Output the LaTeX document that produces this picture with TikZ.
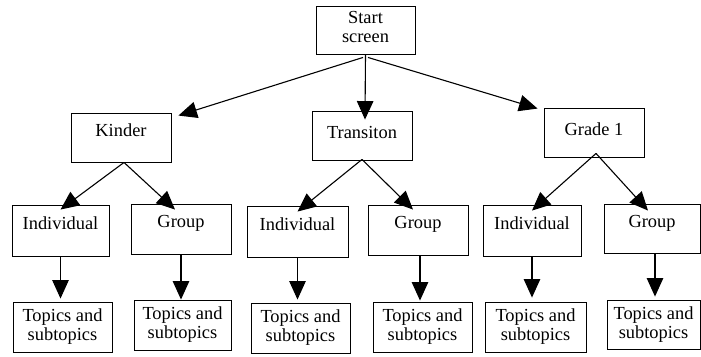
\documentclass[tikz,border=0pt]{standalone}
\usepackage{fontspec}
\setmainfont{Liberation Serif}
\usetikzlibrary{arrows.meta}

\begin{document}
\begin{tikzpicture}[x=1pt, y=-1pt, >={Triangle[length=18.5pt, width=16.5pt]},
  box/.style={draw, line width=0.9pt, inner sep=0pt, align=center,
    font=\rmfamily\fontsize{18.4}{19}\selectfont},
  arr/.style={->, line width=1.1pt}]
  \useasboundingbox (0,0) rectangle (701,356);

  % top of the tree
  \node[box, minimum width=99, minimum height=48, text depth=7pt] (start) at (365.5,30) {Start\\screen};

  % grades
  \node[box, minimum width=100, minimum height=49, text depth=15.6pt] (kinder) at (121,137.5) {Kinder};
  \node[box, minimum width=100, minimum height=49, text depth=5.2pt] (trans) at (362,135.5) {Transiton};
  \node[box, minimum width=100, minimum height=49, text depth=7.6pt] (grade) at (594,132.5) {Grade 1};

  % individual / group
  \node[box, minimum width=97, minimum height=51, text depth=14.6pt] (ind1) at (60.5,230.5) {Individual};
  \node[box, minimum width=100, minimum height=50, text depth=14.4pt] (grp1) at (181,229) {Group};
  \node[box, minimum width=101, minimum height=51, text depth=14.6pt] (ind2) at (297.5,231.5) {Individual};
  \node[box, minimum width=100, minimum height=50, text depth=14.4pt] (grp2) at (418,230) {Group};
  \node[box, minimum width=98, minimum height=51, text depth=14.6pt] (ind3) at (532,230.5) {Individual};
  \node[box, minimum width=96, minimum height=49, text depth=14.4pt] (grp3) at (652,228.5) {Group};

  % topics
  \node[box, minimum width=99, minimum height=50] (top1) at (62.5,327) {Topics and\\subtopics};
  \node[box, minimum width=97, minimum height=50] (top2) at (182.5,325) {Topics and\\subtopics};
  \node[box, minimum width=99, minimum height=50] (top3) at (300.5,328) {Topics and\\subtopics};
  \node[box, minimum width=99, minimum height=50] (top4) at (422.5,327) {Topics and\\subtopics};
  \node[box, minimum width=101, minimum height=50] (top5) at (535.5,327) {Topics and\\subtopics};
  \node[box, minimum width=93, minimum height=49] (top6) at (653.5,324.5) {Topics and\\subtopics};

  % start -> grades
  \draw[arr] ([xshift=-2.5, yshift=-3]start.south) -- ([xshift=7, yshift=-3]kinder.north east);
  \draw[arr] (start.south) -- ([xshift=3, yshift=-9]trans.north);
  \draw[arr] ([xshift=2.5, yshift=-3]start.south) -- ([xshift=-6, yshift=-1]grade.north west);

  % grades -> individual / group
  \draw[arr] ([xshift=3]kinder.south) -- ([yshift=-5]ind1.north);
  \draw[arr] ([xshift=3]kinder.south) -- ([xshift=-6, yshift=-6]grp1.north);
  \draw[arr] ([yshift=1]trans.south) -- ([yshift=-6]ind2.north);
  \draw[arr] ([yshift=1]trans.south) -- ([xshift=-5, yshift=-5]grp2.north);
  \draw[arr] ([xshift=2, yshift=4]grade.south) -- ([yshift=-6]ind3.north);
  \draw[arr] ([xshift=2, yshift=4]grade.south) -- ([xshift=-4, yshift=-7]grp3.north);

  % individual / group -> topics
  \draw[arr, shorten >=3pt] (ind1.south) -- (ind1.south |- top1.north);
  \draw[arr] (grp1.south) -- (grp1.south |- top2.north);
  \draw[arr, shorten >=3pt] (ind2.south) -- (ind2.south |- top3.north);
  \draw[arr, shorten >=1pt] ([xshift=2]grp2.south) -- ([xshift=2]grp2.south |- top4.north);
  \draw[arr, shorten >=4pt] (ind3.south) -- (ind3.south |- top5.north);
  \draw[arr, shorten >=3pt] ([xshift=3]grp3.south) -- ([xshift=3]grp3.south |- top6.north);
\end{tikzpicture}
\end{document}
